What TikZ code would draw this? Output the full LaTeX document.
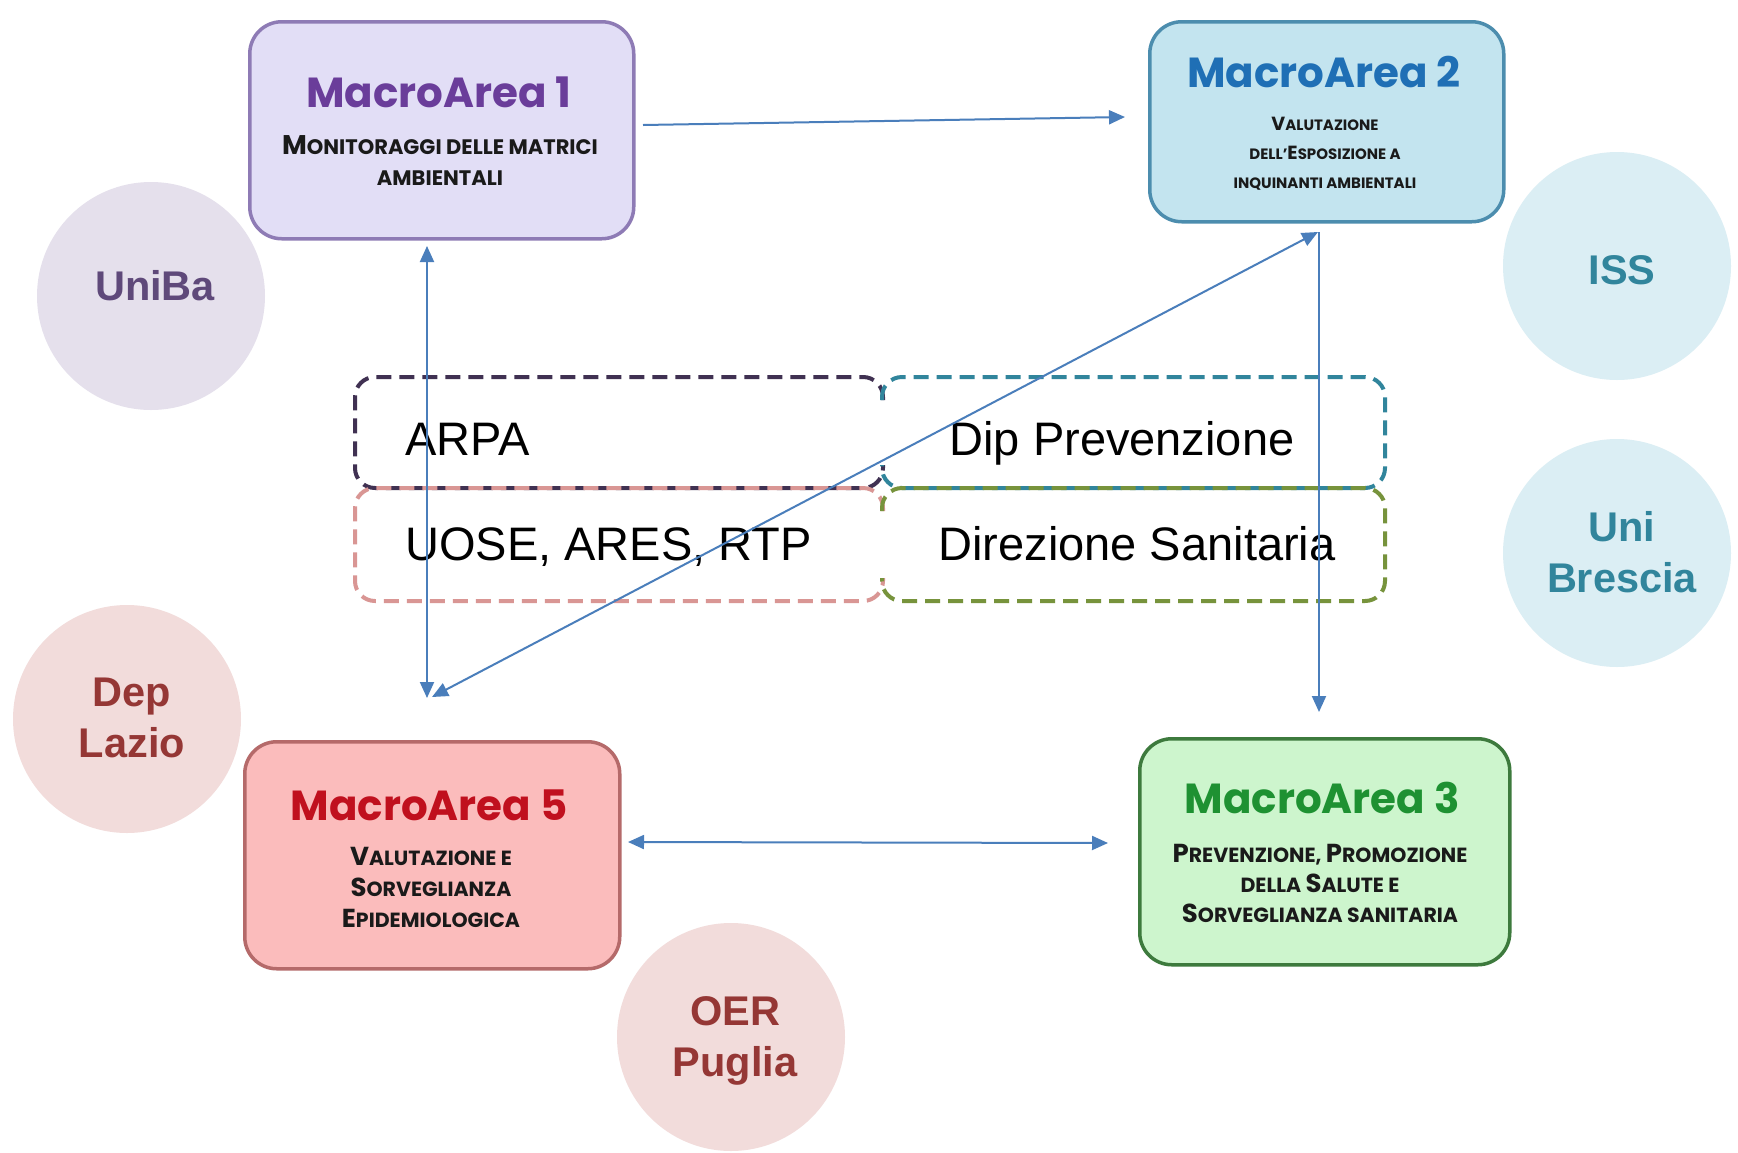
\documentclass[tikz,border=0pt]{standalone}
\usepackage{fontspec}
\setmainfont{Liberation Sans}
\newfontfamily\titlefont{Poppins}
\usetikzlibrary{arrows.meta}
\definecolor{arrowblue}{HTML}{4A7EBB}
\definecolor{unibaF}{HTML}{E5E0EC}
\definecolor{unibaT}{HTML}{5F497A}
\definecolor{issF}{HTML}{DBEEF4}
\definecolor{issT}{HTML}{31859C}
\definecolor{redF}{HTML}{F2DCDB}
\definecolor{redT}{HTML}{953735}
\definecolor{maAF}{HTML}{E2DEF6}
\definecolor{maAD}{HTML}{8E7BB5}
\definecolor{maAT}{HTML}{6A3D9A}
\definecolor{maBF}{HTML}{C3E4EF}
\definecolor{maBD}{HTML}{4C8DAE}
\definecolor{maBT}{HTML}{1F6FB5}
\definecolor{maCF}{HTML}{FBBCBC}
\definecolor{maCD}{HTML}{B56A6A}
\definecolor{maCT}{HTML}{C0101E}
\definecolor{maDF}{HTML}{CDF5CD}
\definecolor{maDD}{HTML}{3D7A3D}
\definecolor{maDT}{HTML}{1E9132}
\definecolor{dPurple}{HTML}{403152}
\definecolor{dTeal}{HTML}{31859C}
\definecolor{dPink}{HTML}{D99694}
\definecolor{dGreen}{HTML}{77933C}
\definecolor{subtxt}{HTML}{1A1A1A}
\newcommand\SC[2]{{\fontsize{\scbig}{\scbig}\selectfont #1}#2}
\begin{document}
\begin{tikzpicture}[x=1pt,y=-1pt,
  orgcircle/.style={circle,minimum size=228pt,inner sep=0pt,draw=none},
  orgtext/.style={font=\bfseries\fontsize{41.5}{51}\selectfont,align=center,anchor=base,inner sep=0pt},
  mabox/.style={draw,line width=3.5pt,rounded corners=32pt,inner sep=0pt,anchor=north west},
  matitle/.style={font=\titlefont\bfseries\fontsize{42}{50}\selectfont,anchor=base,inner sep=0pt},
  masub/.style={text=subtxt,align=center,anchor=base,inner sep=0pt},
  dbox/.style={dash pattern=on 15pt off 8pt,line width=4pt,rounded corners=20pt},
  dtext/.style={font=\fontsize{47}{56}\selectfont,inner sep=0pt},
  conn/.style={draw=arrowblue,line width=2pt},
  tip/.style={-{Triangle[length=16pt,width=14pt]}},
  tips/.style={{Triangle[length=16pt,width=14pt]}-{Triangle[length=16pt,width=14pt]}}
]
\useasboundingbox[fill=white] (0,0) rectangle (1738,1152);

% partner circles
\node[orgcircle,fill=unibaF] (uniba) at (151,296) {};
\node[orgtext,text=unibaT] (uniba-t) at (155,300) {UniBa};
\node[orgcircle,fill=issF] (iss) at (1617,266) {};
\node[orgtext,text=issT] (iss-t) at (1622,284) {ISS};
\node[orgcircle,fill=issF] (unibs) at (1617,553) {};
\node[orgtext,text=issT] (unibs-t) at (1622,592) {Uni\\Brescia};
\node[orgcircle,fill=redF] (deplazio) at (127,719) {};
\node[orgtext,text=redT] (deplazio-t) at (132,757) {Dep\\Lazio};
\node[orgcircle,fill=redF] (oer) at (731,1037) {};
\node[orgtext,text=redT] (oer-t) at (735,1076) {OER\\Puglia};

% macro area boxes
\node[mabox,draw=maAD,fill=maAF,minimum width=384pt,minimum height=217pt] (ma1) at (248,20) {};
\node[matitle,text=maAT] (ma1-t) at (439,107) {MacroArea 1};
\node[masub,font={\def\scbig{27}\titlefont\bfseries\fontsize{21}{31}\selectfont}] (ma1-s) at (440,185)
  {\SC{M}{ONITORAGGI DELLE MATRICI}\\AMBIENTALI};

\node[mabox,draw=maBD,fill=maBF,minimum width=354pt,minimum height=200pt] (ma2) at (1148,20) {};
\node[matitle,text=maBT] (ma2-t) at (1324,87) {MacroArea 2};
\node[masub,font={\def\scbig{19}\titlefont\bfseries\fontsize{15}{29}\selectfont}] (ma2-s) at (1325,188)
  {\SC{V}{ALUTAZIONE}\\DELL’\SC{E}{SPOSIZIONE} A\\INQUINANTI AMBIENTALI};

\node[mabox,draw=maCD,fill=maCF,minimum width=375pt,minimum height=227pt] (ma5) at (243,740) {};
\node[matitle,text=maCT] (ma5-t) at (429,820) {MacroArea 5};
\node[masub,font={\def\scbig{26}\titlefont\bfseries\fontsize{20.5}{31}\selectfont}] (ma5-s) at (431,927)
  {\SC{V}{ALUTAZIONE} E\\\SC{S}{ORVEGLIANZA}\\\SC{E}{PIDEMIOLOGICA}};

\node[mabox,draw=maDD,fill=maDF,minimum width=370pt,minimum height=226pt] (ma3) at (1138,737) {};
\node[matitle,text=maDT] (ma3-t) at (1322,813) {MacroArea 3};
\node[masub,font={\def\scbig{26}\titlefont\bfseries\fontsize{20.5}{30}\selectfont}] (ma3-s) at (1320,922)
  {\SC{P}{REVENZIONE}, \SC{P}{ROMOZIONE}\\DELLA \SC{S}{ALUTE} E\\\SC{S}{ORVEGLIANZA} SANITARIA};

% central dashed boxes
\draw[dbox,draw=dPurple] (883,400) -- (883,377) -- (355,377) -- (355,488) -- (883,488) -- (883,465);
\draw[dbox,draw=dTeal] (882,400) -- (882,377) -- (1385,377) -- (1385,488) -- (882,488) -- (882,465);
\draw[dbox,draw=dPink] (883,511) -- (883,488) -- (355,488) -- (355,601) -- (883,601) -- (883,578);
\draw[dbox,draw=dGreen] (882,511) -- (882,488) -- (1385,488) -- (1385,601) -- (882,601) -- (882,578);
\node[dtext,anchor=base west] (arpa) at (405,455) {ARPA};
\node[dtext,anchor=base] (dip) at (1122,455) {Dip Prevenzione};
\node[dtext,anchor=base west] (uose) at (405,560) {UOSE, ARES, RTP};
\node[dtext,anchor=base] (dir) at (1137,560) {Direzione Sanitaria};

% connectors
\coordinate (c1a) at (643,125);
\coordinate (c1b) at (1125,117);
\coordinate (c2a) at (427,246);
\coordinate (c2b) at (427,698);
\coordinate (c3a) at (1318,232);
\coordinate (c3b) at (432,697);
\coordinate (c4a) at (1319,232);
\coordinate (c4b) at (1319,712);
\coordinate (c5a) at (628,842);
\coordinate (c5b) at (1108,843);
\draw[conn,tip,arrowblue] (c1a) -- (c1b);
\draw[conn,tips,arrowblue] (c2a) -- (c2b);
\draw[conn,tips,arrowblue] (c3a) -- (c3b);
\draw[conn,tip,arrowblue] (c4a) -- (c4b);
\draw[conn,tips,arrowblue] (c5a) -- (c5b);
\end{tikzpicture}
\end{document}
